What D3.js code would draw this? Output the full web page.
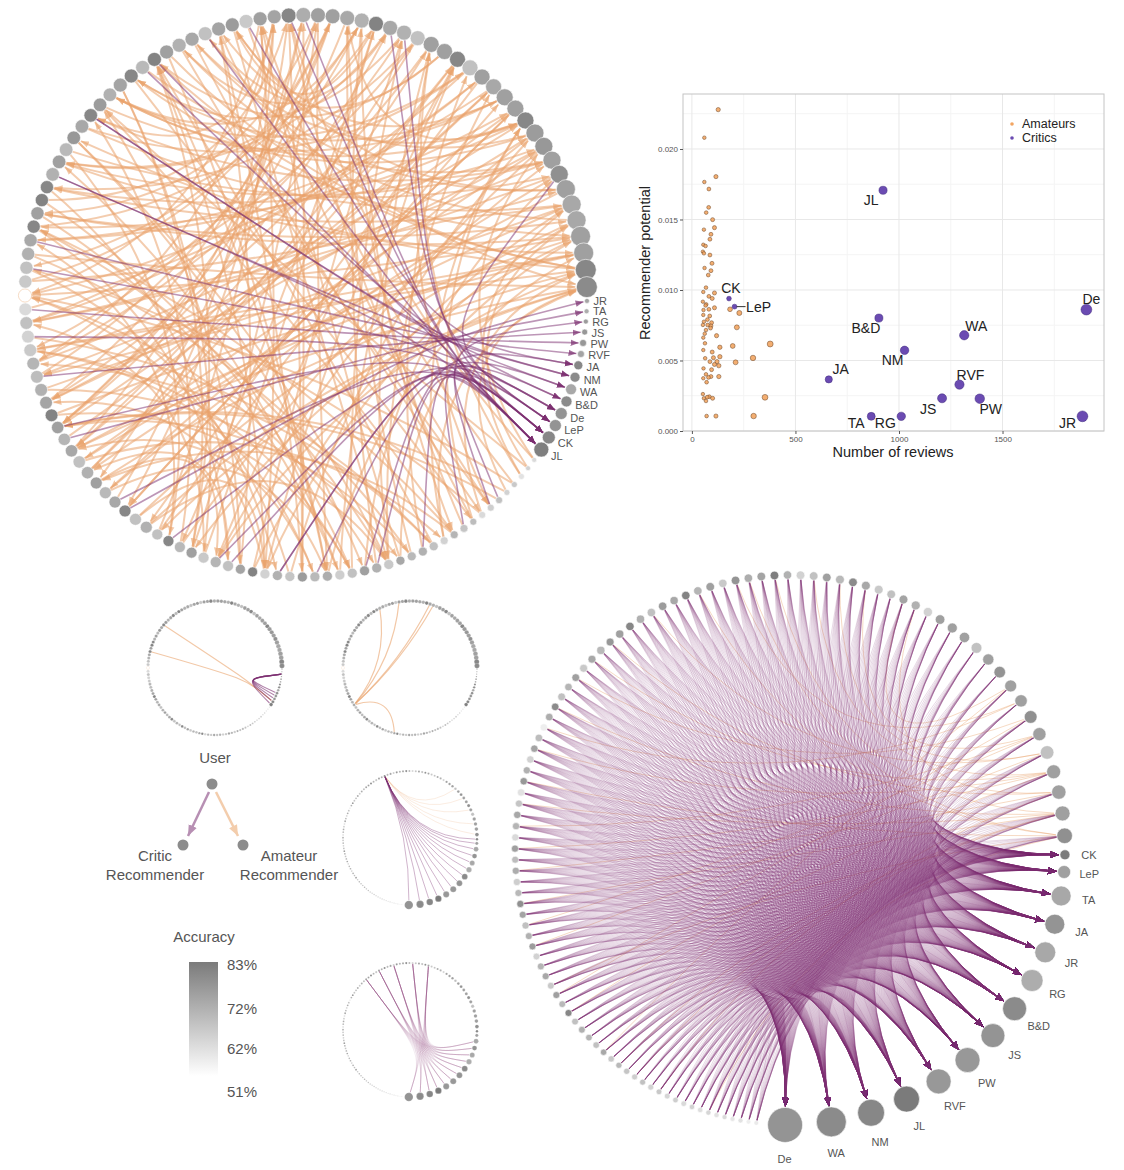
<!DOCTYPE html>
<html>
<head>
<meta charset="utf-8">
<script src="https://cdn.jsdelivr.net/npm/d3@7"></script>
<style>
body { margin: 0; background: #fff; }
text { font-family: "Liberation Sans", Arial, Helvetica, sans-serif; }
</style>
</head>
<body>
<script>
// ---------- data: top-left network (critics first, then users clockwise) ----------
var tlCriticNames = ["JR","TA","RG","JS","PW","RVF","JA","NM","WA","B&D","De","LeP","CK","JL"];
var tlCriticSize = [2.5,2.5,2.5,3,3.5,3.5,4.5,5,5.5,5.5,6,6,6.5,7.5];
var tlCriticAcc = [.73,.71,.75,.76,.76,.73,.80,.79,.72,.79,.77,.77,.80,.82];
var tlUserSize = [
  2.5,2.5,3,3,3,3.5,3.5,3.5,3.5,4,4,4,4.5,4.5,
  4.5,4.5,5,5,5,5,5,5,5,5,5,5,5,5,5,5.5,5.5,5.5,5.5,5.5,5.5,5.5,
  6,6,6,6,6,6,6.2,6.2,6.2,6.2,6.2,6.4,6.4,6.4,6.4,6.4,6.4,6.4,6.4,6.4,
  6.6,6.6,6.6,6.6,6.6,6.6,6.6,6.6,6.6,6.8,6.8,6.8,6.8,6.8,6.8,6.8,6.8,
  7,7,7,7,7,7,7,7,7,7,7,
  7,7,7.5,7.5,7.5,7.5,7.5,7.5,7.5,7.5,7.5,7.5,8,8,8,8,
  8,8,8.5,8.5,8.5,9,9,9,9,9.5,9.5,9.5,10,10,10.5,10.5
];
var tlUserAcc = [
  .60,.62,.58,.64,.62,.66,.63,.60,.67,.65,.69,.62,.66,.70,
  .68,.72,.64,.70,.74,.66,.63,.71,.68,.75,.65,.70,.62,.81,.73,.66,.69,.64,.74,.68,.80,.66,
  .70,.66,.80,.72,.68,.74,.70,.66,.72,.69,.74,.81,.73,.70,.67,.69,.64,.62,.66,.60,
  .51,.64,.66,.70,.72,.80,.74,.81,.80,.70,.74,.68,.76,.72,.80,.75,.70,.73,.80,.68,
  .81,.74,.70,.72,.66,.73,.75,.64,
  .74,.73,.80,.71,.74,.74,.72,.70,.81,.72,.70,.66,.74,.74,.80,.66,
  .74,.72,.74,.74,.80,.75,.76,.74,.78,.74,.72,.72,.74,.74,.80,.79
];
// two recommenders per user (index into critics + users)
var tlTargetA = [
  120,125,110,70,129,60,2,128,100,13,75,118,65,12,
  104,127,115,13,122,108,80,126,12,101,119,9,112,124,85,11,128,106,90,121,10,116,
  129,125,117,13,122,128,112,120,126,115,12,127,119,124,103,118,128,11,121,114,
  126,123,10,129,117,105,125,33,120,13,127,122,30,124,8,116,119,45,126,121,
  12,128,20,118,129,37,123,6,
  40,65,13,55,35,72,60,24,47,80,12,58,30,90,44,68,
  70,60,88,52,75,95,64,84,11,56,78,92,46,66,82,58
];
var tlTargetB = [
  100,85,124,98,60,10,110,72,118,104,55,129,90,113,
  60,98,75,105,6,66,112,90,58,100,70,8,62,108,95,56,12,68,102,84,74,99,
  30,40,0,99,35,44,110,25,101,1,107,33,102,29,3,108,36,26,109,4,
  31,103,39,28,5,43,34,100,42,7,106,48,32,113,7,24,105,46,22,9,
  40,35,107,21,13,98,30,20,
  70,84,52,13,76,60,118,66,96,11,88,78,62,94,58,86,
  50,74,96,62,86,54,44,80,68,93,57,40,76,64,90,49
];

// ---------- data: bottom-right network ----------
var brCriticNames = ["CK","LeP","TA","JA","JR","RG","B&D","JS","PW","RVF","JL","NM","WA","De"];
var brCriticSize = [5,6.5,10,10,10.5,11,12,12,12.5,12.5,13,13.5,15,17.5];
var brCriticAcc = [.83,.74,.72,.77,.72,.71,.79,.77,.76,.76,.83,.80,.79,.77];
var brUserSize = [
  2.4,2.4,2.5,2.5,2.5,2.6,2.6,2.7,2.7,2.8,2.8,2.9,2.9,3,3,3,3.1,3.1,3.2,3.2,3.3,3.3,
  3.4,3.4,3.5,3.4,3.5,3.4,3.5,3.5,3.4,3.5,3.5,3.6,3.5,3.6,3.5,3.6,3.6,3.5,3.6,3.6,
  3.6,3.7,3.6,3.7,3.7,3.6,3.7,3.7,3.8,3.7,3.8,3.8,3.9,3.8,3.9,4,
  4,4.1,4,4.1,4.2,4.1,4.2,4.2,4.1,4.2,4.2,4.3,4.2,4.3,4.2,4.3,4.3,4.2,4.3,4.3,
  4.3,4.4,4.3,4.4,4.4,4.3,4.4,4.5,
  4.6,4.8,5,5.2,5.4,5.6,5.8,6,6.2,6.4,6.6,6.8,7,7.2,7.5,7.8
];
var brUserAcc = [
  .56,.55,.58,.57,.60,.58,.61,.59,.62,.60,.63,.61,.64,.62,.66,.63,.65,.68,.64,.72,.66,.69,
  .70,.66,.80,.68,.74,.64,.72,.69,.62,.75,.70,.66,.73,.78,.68,.63,.71,.67,.74,.60,
  .69,.72,.65,.58,.76,.70,.62,.73,.67,.55,.71,.79,.66,.69,.74,.64,
  .72,.68,.76,.74,.80,.70,.66,.75,.72,.81,.69,.74,.64,.77,.71,.73,.82,.70,.62,.66,
  .74,.68,.79,.72,.64,.66,.73,.70,
  .62,.74,.74,.74,.66,.74,.77,.74,.74,.78,.74,.66,.74,.74,.74,.78
];
var brOrangeSrc = [20,26,31,38,41,45,49,52,56,60,63,67,70,74,78,82,85,88,91,95,98,40,58,72,86,99,33,47,65,93,29,54];
var brOrangeTgt = [115,113,114,112,115,111,114,113,110,115,112,114,109,113,111,115,108,114,112,110,107,109,114,112,115,113,107,110,108,111,114,112];

// ---------- data: small example circles ----------
var c1Edges = [[2,13,"p"],[2,12,"p"],[2,11,"p"],[2,10,"p"],[2,9,"p"],[84,12,"o"],[75,12,"o"]];
var c2Edges = [[92,58],[98,58],[107,58],[108,58],[42,58]];
var c3Source = 81;
var c3Amateurs = [104,107,110,113,115];
var c4Sources = [74,79,84,90,95];

// ---------- data: scatter ----------
var critNames = ["JL","CK","LeP","B&D","De","WA","NM","JA","RVF","JS","PW","TA","RG","JR"];
var critReviews = [923,179,206,903,1905,1315,1027,661,1292,1208,1390,866,1011,1886];
var critPotential = [.01707,.00939,.00882,.00801,.00861,.00679,.00572,.00366,.00329,.00232,.00229,.00104,.00104,.00104];
var amReviews = [127,60,116,60,82,81,69,100,109,58,92,87,55,66,53,58,87,97,61,92,79,68,55,82,109,98,53,69,109,82,
  56,55,86,184,229,58,76,95,92,68,53,217,119,55,63,135,197,378,55,98,64,87,135,121,211,295,109,130,56,95,
  68,55,92,130,71,53,58,84,100,68,353,71,116,298,75,90,62,104,80,74,66];
var amPotential = [.02279,.0208,.01804,.01766,.01716,.01586,.01549,.01499,.01442,.01428,.01395,.0136,.01321,.01312,.01272,
  .0126,.01248,.01189,.01156,.01137,.01106,.01017,.00986,.00955,.00979,.0094,.00917,.00898,.00874,.00863,
  .00858,.00823,.00816,.00863,.00837,.00775,.00752,.00768,.00745,.00716,.00752,.00735,.00676,.00662,.00622,
  .00594,.00603,.00617,.00574,.0056,.00516,.00492,.00527,.00492,.00487,.00518,.00472,.00463,.00444,.00435,
  .00402,.00374,.00386,.00386,.00346,.00262,.00232,.00243,.00232,.00213,.00239,.00106,.00106,.00106,
  .0079,.0073,.0069,.0052,.0038,.0024,.0089];
var xTicks = [0,500,1000,1500];
var yTicks = [0,.005,.01,.015,.02];
var accTicks = [.83,.72,.62,.51];

// ---------- drawing ----------
var svg = d3.select("body").append("svg").attr("width", 1124).attr("height", 1170);
var defs = svg.append("defs");
var accColor = d3.scaleLinear().domain([0.51, 0.83]).range(["#ffffff", "#7b7b7b"]).clamp(true);
var ORANGE = "#e9a36c", PURPLE = "#7b2d6f";

function marker(id, color, opacity, size) {
  defs.append("marker").attr("id", id).attr("viewBox", "0 -5 10 10")
    .attr("refX", 10).attr("refY", 0).attr("markerUnits", "userSpaceOnUse")
    .attr("markerWidth", size).attr("markerHeight", size).attr("orient", "auto")
    .append("path").attr("d", "M0,-4L10,0L0,4Z").attr("fill", color).attr("fill-opacity", opacity);
}
marker("arO", ORANGE, 0.6, 8);
marker("arP", PURPLE, 0.7, 8);
marker("arBR", PURPLE, 0.14, 9);
marker("legP", "#b78fb3", 1, 11);
marker("legO", "#f3cdac", 1, 11);

// angle of each node around the ring, slot grows with node size
function ringAngles(sizes, startDeg, a, b) {
  var slots = sizes.map(function(s) { return a * s + b; });
  var total = d3.sum(slots), run = 0;
  var start = startDeg * Math.PI / 180 - slots[0] / total * Math.PI;
  return slots.map(function(sl) {
    var ang = start + (run + sl / 2) / total * 2 * Math.PI;
    run += sl;
    return ang;
  });
}
function place(angles, sizes, c, R, rScale) {
  return angles.map(function(ang, i) {
    return {x: c[0] + R * Math.cos(ang), y: c[1] + R * Math.sin(ang), r: rScale(sizes[i]), ang: ang};
  });
}
function quadEdge(s, t, q, gap) {
  var dx = t.x - q[0], dy = t.y - q[1], L = Math.hypot(dx, dy) || 1;
  var p = d3.path();
  p.moveTo(s.x, s.y);
  p.quadraticCurveTo(q[0], q[1], t.x - dx / L * (t.r + gap), t.y - dy / L * (t.r + gap));
  return p.toString();
}
function arcCtrl(s, t, c, beta) {
  var mx = (s.x + t.x) / 2, my = (s.y + t.y) / 2;
  return [mx + (c[0] - mx) * beta, my + (c[1] - my) * beta];
}
function hubEdge(s, t, h, gap) {
  var dx = t.x - h[0], dy = t.y - h[1], L = Math.hypot(dx, dy) || 1;
  var p = d3.path();
  p.moveTo(s.x, s.y);
  p.bezierCurveTo(h[0], h[1], h[0], h[1], t.x - dx / L * (t.r + gap), t.y - dy / L * (t.r + gap));
  return p.toString();
}
function drawEdges(g, list, pathFn, color, opacity, width, markerId) {
  g.append("g").selectAll("path").data(list).join("path")
    .attr("d", pathFn).attr("fill", "none").attr("stroke", color)
    .attr("stroke-opacity", opacity).attr("stroke-width", width)
    .attr("marker-end", markerId ? "url(#" + markerId + ")" : null);
}
function drawNodes(g, nodes, acc, sw) {
  g.append("g").selectAll("circle").data(nodes).join("circle")
    .attr("cx", function(d) { return d.x; }).attr("cy", function(d) { return d.y; })
    .attr("r", function(d) { return d.r; })
    .attr("fill", function(d, i) { return accColor(acc[i]); })
    .attr("stroke", function(d, i) { return acc[i] < 0.53 ? "#f0c4a0" : "#fff"; })
    .attr("stroke-width", sw);
}

// ----- top-left network -----
var tlSize = tlCriticSize.concat(tlUserSize);
var tlAcc = tlCriticAcc.concat(tlUserAcc);
var tlAng = ringAngles(tlSize, 1, 0.9, 8.5);
var tlC = [306, 296], tlR = 281, tlHub = [126, 44];
var tlNodes = place(tlAng, tlSize, tlC, tlR, d3.scaleLinear([0, 10], [0, 10]));
var tlEdges = [];
tlUserSize.forEach(function(_, i) {
  tlEdges.push({s: i + 14, t: tlTargetA[i]});
  tlEdges.push({s: i + 14, t: tlTargetB[i]});
});
var gTL = svg.append("g");
drawEdges(gTL, tlEdges.filter(function(e) { return e.t >= 14; }), function(e) {
  var s = tlNodes[e.s], t = tlNodes[e.t];
  return quadEdge(s, t, arcCtrl(s, t, tlC, 0.5), 1);
}, ORANGE, 0.55, 2, "arO");
drawEdges(gTL, tlEdges.filter(function(e) { return e.t < 14; }), function(e) {
  return hubEdge(tlNodes[e.s], tlNodes[e.t], [tlC[0] + tlHub[0], tlC[1] + tlHub[1]], 1);
}, PURPLE, 0.5, 1.6, "arP");
drawNodes(gTL, tlNodes, tlAcc, 0.6);
gTL.append("g").selectAll("text").data(tlCriticNames).join("text")
  .attr("x", function(d, i) { var n = tlNodes[i]; return n.x + Math.cos(n.ang) * (n.r + 4); })
  .attr("y", function(d, i) { var n = tlNodes[i]; return n.y + Math.sin(n.ang) * (n.r + 4); })
  .attr("dy", "0.35em").attr("font-size", 11).attr("fill", "#555").text(function(d) { return d; });

// ----- bottom-right network -----
var brSize = brCriticSize.concat(brUserSize);
var brAcc = brCriticAcc.concat(brUserAcc);
var brAng = ringAngles(brSize, 1, 2.69, 1.2);
var brC = [790, 850], brR = 275;
var brNodes = place(brAng, brSize, brC, brR, d3.scaleLinear([0, 10], [0, 10]));
var gBR = svg.append("g");
var brOrange = brOrangeSrc.map(function(s, i) { return {s: s, t: brOrangeTgt[i]}; });
drawEdges(gBR, brOrange, function(e) {
  var s = brNodes[e.s], t = brNodes[e.t];
  return quadEdge(s, t, arcCtrl(s, t, brC, 0.7), 1);
}, ORANGE, 0.4, 1, null);
var brCritEdges = [];
d3.range(14, brSize.length).forEach(function(u) {
  brCriticNames.forEach(function(_, c) { brCritEdges.push({s: u, t: c}); });
});
// every curve bends through a point between the centre and its critic
drawEdges(gBR, brCritEdges, function(e) {
  var t = brNodes[e.t];
  var q = [brC[0] + (t.x - brC[0]) * 0.12, brC[1] + (t.y - brC[1]) * 0.12];
  return quadEdge(brNodes[e.s], t, q, 1);
}, PURPLE, 0.19, 0.95, "arBR");
drawNodes(gBR, brNodes, brAcc, 0.6);
gBR.append("g").selectAll("text").data(brCriticNames).join("text")
  .attr("x", function(d, i) { var n = brNodes[i]; return brC[0] + Math.cos(n.ang) * (brR + 20 + n.r * 0.8); })
  .attr("y", function(d, i) { var n = brNodes[i]; return brC[1] + Math.sin(n.ang) * (brR + 20 + n.r * 0.8); })
  .attr("dy", "0.35em").attr("text-anchor", "middle").attr("font-size", 11).attr("fill", "#555")
  .text(function(d) { return d; });

// ----- small example circles -----
var smallR = 67, smallK = smallR / tlR;
function smallTL(c, edges, orangeOnly) {
  var g = svg.append("g");
  var nodes = place(tlAng, tlSize, c, smallR, d3.scaleLinear([0, 10], [0, 10 * smallK]));
  var hub = [c[0] + tlHub[0] * smallK, c[1] + tlHub[1] * smallK];
  if (orangeOnly) {
    drawEdges(g, edges, function(e) {
      var s = nodes[e[0]], t = nodes[e[1]];
      return quadEdge(s, t, arcCtrl(s, t, c, 0.5), 0.5);
    }, ORANGE, 0.6, 1.2, null);
  } else {
    drawEdges(g, edges.filter(function(e) { return e[2] === "o"; }), function(e) {
      return hubEdge(nodes[e[0]], nodes[e[1]], hub, 0.5);
    }, ORANGE, 0.6, 1.1, null);
    drawEdges(g, edges.filter(function(e) { return e[2] === "p"; }), function(e) {
      return hubEdge(nodes[e[0]], nodes[e[1]], hub, 0.5);
    }, PURPLE, 0.6, 1.1, null);
  }
  drawNodes(g, nodes, tlAcc, 0.2);
}
smallTL([215, 668], c1Edges, false);
smallTL([410, 668], c2Edges, true);

var brK = smallR / brR;
function smallBR(c, draw) {
  var g = svg.append("g");
  var nodes = place(brAng, brSize, c, smallR, d3.scaleLinear([0, 10], [0, 10 * brK]));
  draw(g, nodes);
  drawNodes(g, nodes, brAcc, 0.2);
}
smallBR([410, 838], function(g, nodes) {
  var c = [410, 838];
  drawEdges(g, c3Amateurs.map(function(t) { return [c3Source, t]; }), function(e) {
    var s = nodes[e[0]], t = nodes[e[1]];
    return quadEdge(s, t, arcCtrl(s, t, c, 0.6), 0.5);
  }, ORANGE, 0.25, 0.8, null);
  drawEdges(g, brCriticNames.map(function(_, i) { return [c3Source, i]; }), function(e) {
    return quadEdge(nodes[e[0]], nodes[e[1]], c, 0.5);
  }, PURPLE, 0.45, 0.8, null);
});
smallBR([410, 1030], function(g, nodes) {
  var hub = [422, 1054], list = [];
  c4Sources.forEach(function(s) { d3.range(2, 14).forEach(function(t) { list.push([s, t]); }); });
  drawEdges(g, list, function(e) {
    return hubEdge(nodes[e[0]], nodes[e[1]], hub, 0.5);
  }, PURPLE, 0.12, 0.8, null);
});

// ----- user / recommender legend -----
var gL = svg.append("g").attr("fill", "#555").attr("font-size", 15);
gL.append("text").attr("x", 215).attr("y", 763).attr("text-anchor", "middle").text("User");
gL.append("line").attr("x1", 209).attr("y1", 792).attr("x2", 188).attr("y2", 836)
  .attr("stroke", "#b78fb3").attr("stroke-width", 2.5).attr("marker-end", "url(#legP)");
gL.append("line").attr("x1", 216).attr("y1", 792).attr("x2", 238).attr("y2", 836)
  .attr("stroke", "#f3cdac").attr("stroke-width", 2.5).attr("marker-end", "url(#legO)");
[[212, 784], [183, 845], [243, 845]].forEach(function(p) {
  gL.append("circle").attr("cx", p[0]).attr("cy", p[1]).attr("r", 5.5).attr("fill", "#8c8c8c");
});
gL.append("text").attr("x", 155).attr("y", 861).attr("text-anchor", "middle").text("Critic");
gL.append("text").attr("x", 155).attr("y", 880).attr("text-anchor", "middle").text("Recommender");
gL.append("text").attr("x", 289).attr("y", 861).attr("text-anchor", "middle").text("Amateur");
gL.append("text").attr("x", 289).attr("y", 880).attr("text-anchor", "middle").text("Recommender");

// ----- accuracy legend -----
var grad = defs.append("linearGradient").attr("id", "accGrad").attr("x1", 0).attr("y1", 0).attr("x2", 0).attr("y2", 1);
grad.append("stop").attr("offset", "0%").attr("stop-color", accColor(0.83));
grad.append("stop").attr("offset", "100%").attr("stop-color", accColor(0.51));
gL.append("text").attr("x", 204).attr("y", 942).attr("text-anchor", "middle").text("Accuracy");
gL.append("rect").attr("x", 189).attr("y", 962).attr("width", 29).attr("height", 114).attr("fill", "url(#accGrad)");
var accY = d3.scaleLinear().domain([0.51, 0.83]).range([1092, 965]);
gL.selectAll("text.acc").data(accTicks).join("text").attr("class", "acc")
  .attr("x", 227).attr("y", function(d) { return accY(d); }).attr("dy", "0.35em")
  .text(d3.format(".0%"));

// ----- scatter -----
var sx = d3.scaleLinear().domain([-43, 1990]).range([683, 1104]);
var sy = d3.scaleLinear().domain([0, 0.0239]).range([431, 94]);
var rs = d3.scaleSqrt().domain([0, 1900]).range([1, 5.4]);
var gS = svg.append("g");
gS.append("g").selectAll("line").data([250, 750, 1250, 1750]).join("line")
  .attr("x1", sx).attr("x2", sx).attr("y1", 94).attr("y2", 431).attr("stroke", "#f4f4f4");
gS.append("g").selectAll("line").data([.0025, .0075, .0125, .0175, .0225]).join("line")
  .attr("y1", sy).attr("y2", sy).attr("x1", 683).attr("x2", 1104).attr("stroke", "#f4f4f4");
gS.append("g").selectAll("line").data(xTicks).join("line")
  .attr("x1", sx).attr("x2", sx).attr("y1", 94).attr("y2", 431).attr("stroke", "#e8e8e8");
gS.append("g").selectAll("line").data(yTicks).join("line")
  .attr("y1", sy).attr("y2", sy).attr("x1", 683).attr("x2", 1104).attr("stroke", "#e8e8e8");
gS.append("rect").attr("x", 683).attr("y", 94).attr("width", 421).attr("height", 337)
  .attr("fill", "none").attr("stroke", "#c4c4c4");
var xa = gS.append("g").attr("transform", "translate(0,431)")
  .call(d3.axisBottom(sx).tickValues(xTicks).tickSize(3).tickPadding(2).tickFormat(d3.format("d")));
var ya = gS.append("g").attr("transform", "translate(683,0)")
  .call(d3.axisLeft(sy).tickValues(yTicks).tickSize(3).tickPadding(2).tickFormat(d3.format(".3f")));
[xa, ya].forEach(function(a) {
  a.select(".domain").remove();
  a.selectAll("line").attr("stroke", "#555");
  a.selectAll("text").attr("font-size", 8).attr("fill", "#555")
    .attr("font-family", "\"Liberation Sans\", Arial, sans-serif");
});
gS.append("text").attr("x", 893).attr("y", 457).attr("text-anchor", "middle")
  .attr("font-size", 14.5).attr("fill", "#222").text("Number of reviews");
gS.append("text").attr("transform", "translate(650,263) rotate(-90)").attr("text-anchor", "middle")
  .attr("font-size", 14.5).attr("fill", "#222").text("Recommender potential");
gS.append("g").selectAll("circle").data(amReviews).join("circle")
  .attr("cx", function(d) { return sx(d); })
  .attr("cy", function(d, i) { return sy(amPotential[i]); })
  .attr("r", function(d) { return rs(d); })
  .attr("fill", "#f2a562").attr("stroke", "#6b4526").attr("stroke-width", 0.5).attr("fill-opacity", 0.9);
gS.append("g").selectAll("circle").data(critReviews).join("circle")
  .attr("cx", function(d) { return sx(d); })
  .attr("cy", function(d, i) { return sy(critPotential[i]); })
  .attr("r", function(d) { return rs(d); })
  .attr("fill", "#6b4bb2").attr("stroke", "#3f2b7c").attr("stroke-width", 0.5);
var nudge = {JL: [-12, 10], CK: [2, -10], LeP: [24, 0], "B&D": [-13, 10], De: [5, -10], WA: [12, -9],
  NM: [-12, 10], JA: [12, -10], RVF: [11, -10], JS: [-14, 11], PW: [11, 10], TA: [-15, 7], RG: [-16, 7], JR: [-15, 7]};
var lp = critNames.indexOf("LeP");
gS.append("line").attr("x1", sx(critReviews[lp]) + 2).attr("x2", sx(critReviews[lp]) + 11)
  .attr("y1", sy(critPotential[lp])).attr("y2", sy(critPotential[lp])).attr("stroke", "#333");
gS.append("g").selectAll("text").data(critNames).join("text")
  .attr("x", function(d, i) { return sx(critReviews[i]) + nudge[d][0]; })
  .attr("y", function(d, i) { return sy(critPotential[i]) + nudge[d][1]; })
  .attr("dy", "0.35em").attr("text-anchor", "middle").attr("font-size", 14).attr("fill", "#222")
  .text(function(d) { return d; });
var leg = gS.append("g");
[["Amateurs", "#f2a562", 124], ["Critics", "#6b4bb2", 138]].forEach(function(d) {
  leg.append("circle").attr("cx", 1012).attr("cy", d[2]).attr("r", 1.8).attr("fill", d[1]);
  leg.append("text").attr("x", 1022).attr("y", d[2]).attr("dy", "0.35em").attr("font-size", 12.5)
    .attr("fill", "#222").text(d[0]);
});
</script>
</body>
</html>
